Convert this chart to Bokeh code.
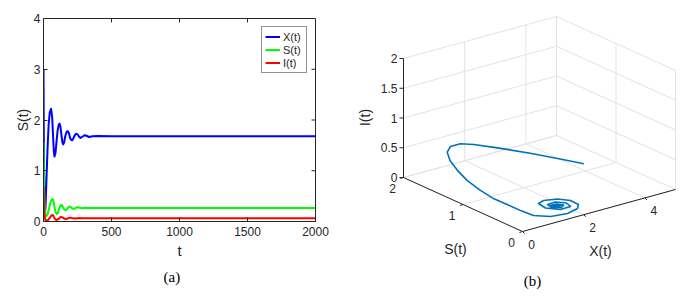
import numpy as np
from bokeh.plotting import figure
from bokeh.models import Range1d, FixedTicker, Legend, LegendItem, Label, Title
from bokeh.layouts import row
from bokeh.embed import file_html
from bokeh.resources import INLINE
from bokeh.core.properties import value

# ---------------- data: panel (a) time series ----------------
t_X = [0, 3, 6, 10, 15, 22, 30, 38, 46, 56, 64, 70, 76, 81, 88, 96, 104, 112, 118, 125,
       132, 139, 145, 152, 160, 170, 179, 187, 195, 203, 211, 220, 232, 243, 252, 262, 272,
       285, 304, 320, 335, 360, 400, 500, 2000]
X_vals = [3.0, 1.3, 0.45, 0.12, 0.3, 0.85, 1.45, 1.92, 2.15, 2.22, 2.05, 1.7, 1.38, 1.28, 1.35,
          1.58, 1.8, 1.91, 1.93, 1.86, 1.7, 1.56, 1.52, 1.56, 1.68, 1.77, 1.78, 1.74, 1.65, 1.61,
          1.60, 1.64, 1.71, 1.73, 1.71, 1.67, 1.645, 1.67, 1.70, 1.685, 1.665, 1.68, 1.685, 1.68, 1.68]
t_S = [0, 3, 6, 10, 15, 20, 28, 38, 48, 58, 66, 72, 80, 88, 97, 106, 116, 126, 132, 140,
       150, 160, 172, 184, 192, 202, 214, 226, 240, 252, 266, 285, 305, 330, 400, 2000]
S_vals = [1.55, 0.9, 0.45, 0.22, 0.12, 0.1, 0.13, 0.22, 0.34, 0.42, 0.44, 0.42, 0.3, 0.19, 0.15,
          0.17, 0.26, 0.32, 0.325, 0.3, 0.245, 0.22, 0.24, 0.285, 0.295, 0.28, 0.252, 0.25, 0.275,
          0.282, 0.27, 0.262, 0.27, 0.268, 0.268, 0.268]
t_I = [0, 3, 6, 10, 16, 24, 34, 46, 56, 64, 70, 78, 88, 98, 108, 120, 130, 140, 152, 164,
       178, 192, 204, 218, 232, 250, 265, 285, 310, 350, 2000]
I_vals = [0.68, 0.35, 0.15, 0.06, 0.025, 0.02, 0.03, 0.07, 0.11, 0.13, 0.125, 0.08, 0.04, 0.03,
          0.045, 0.075, 0.09, 0.08, 0.058, 0.05, 0.06, 0.075, 0.072, 0.062, 0.058, 0.066, 0.07,
          0.065, 0.064, 0.066, 0.066]
series_names = ["X(t)", "S(t)", "I(t)"]
x_ticks_a = [0, 500, 1000, 1500, 2000]
y_ticks_a = [0, 1, 2, 3, 4]
t_lim = (0, 2000)
v_lim = (0, 4)

# ---------------- data: panel (b) phase trajectory ----------------
traj_X = [3.22, 2.94, 2.47, 1.96, 1.58, 1.31, 0.99, 0.69, 0.45, 0.29, 0.20, 0.24, 0.35, 0.53,
          0.66, 0.78, 1.14, 1.59, 1.965, 2.11, 2.10, 1.90, 1.58, 1.37, 1.36, 1.61, 1.93, 1.96,
          1.78, 1.52, 1.50, 1.70, 1.83, 1.73, 1.55, 1.54, 1.65, 1.74, 1.70, 1.58, 1.56, 1.65,
          1.70, 1.64, 1.59, 1.62, 1.65, 1.62, 1.62]
traj_S = [0.625, 0.816, 1.14, 1.43, 1.63, 1.72, 1.72, 1.62, 1.45, 1.24, 1.03, 0.83, 0.66, 0.53,
          0.37, 0.217, 0.114, 0.062, 0.086, 0.145, 0.274, 0.39, 0.46, 0.435, 0.314, 0.19, 0.185,
          0.27, 0.36, 0.36, 0.28, 0.22, 0.25, 0.32, 0.33, 0.27, 0.235, 0.26, 0.305, 0.30, 0.26,
          0.245, 0.27, 0.29, 0.275, 0.26, 0.27, 0.28, 0.27]
traj_I = [0.40, 0.42, 0.45, 0.48, 0.50, 0.51, 0.51, 0.50, 0.47, 0.42, 0.36, 0.28, 0.20, 0.14,
          0.09, 0.06, 0.04, 0.05, 0.07, 0.09, 0.10, 0.10, 0.09, 0.08, 0.06, 0.056, 0.064, 0.08,
          0.08, 0.074, 0.064, 0.064, 0.072, 0.074, 0.07, 0.066, 0.066, 0.07, 0.07, 0.068, 0.066,
          0.066, 0.068, 0.068, 0.066, 0.066, 0.067, 0.067, 0.066]
ticks_X3 = [0, 2, 4]
ticks_S3 = [0, 1, 2]
ticks_I3 = [0, 0.5, 1, 1.5, 2]
lim_X3, lim_S3, lim_I3 = 5.0, 2.0, 2.0

# ---------------- styles ----------------
AX = "#262626"
GRID = "#e3e3e3"
FONT = "Liberation Sans"
SERIF = "Liberation Serif"
COLORS = ["#0000ff", "#00ff00", "#ff0000"]
TRAJ = "#0072bd"
TICK_FS = "12px"
LAB_FS = "14px"
CAP_FS = "15px"

# ================= panel (a) =================
p1 = figure(width=343, height=296, output_backend="svg", toolbar_location=None,
            x_range=Range1d(*t_lim), y_range=Range1d(*v_lim),
            min_border_left=43, min_border_right=28, min_border_top=18, min_border_bottom=75)
p1.frame_align = False
p1.grid.visible = False
p1.outline_line_color = AX
p1.background_fill_color = "white"
p1.border_fill_color = "white"

for ax in (p1.xaxis[0], p1.yaxis[0]):
    ax.axis_line_color = AX
    ax.major_tick_line_color = AX
    ax.major_tick_in = 4
    ax.major_tick_out = 0
    ax.minor_tick_line_color = None
    ax.major_label_text_color = AX
    ax.major_label_text_font = FONT
    ax.major_label_text_font_size = TICK_FS
    ax.axis_label_text_font = FONT
    ax.axis_label_text_font_style = "normal"
    ax.axis_label_text_color = AX
    ax.axis_label_text_font_size = LAB_FS
p1.xaxis[0].ticker = FixedTicker(ticks=x_ticks_a)
p1.yaxis[0].ticker = FixedTicker(ticks=y_ticks_a)
p1.xaxis[0].axis_label = "t"
p1.yaxis[0].axis_label = "S(t)"
p1.xaxis[0].major_label_standoff = 5
p1.xaxis[0].axis_label_standoff = 3
p1.xaxis[0].axis_label_text_font_size = "15px"
p1.yaxis[0].major_label_standoff = 3
p1.yaxis[0].axis_label_standoff = 0

# inward ticks on the top and right edges of the box
p1.ray(x=[t_lim[1]] * len(y_ticks_a), y=y_ticks_a, length=4, length_units="screen",
       angle=np.pi, line_color=AX, line_width=1)
p1.ray(x=x_ticks_a, y=[v_lim[1]] * len(x_ticks_a), length=4, length_units="screen",
       angle=-np.pi / 2, line_color=AX, line_width=1)

r1 = p1.line(t_X, X_vals, line_color=COLORS[0], line_width=2, line_join="round")
r2 = p1.line(t_S, S_vals, line_color=COLORS[1], line_width=2, line_join="round")
r3 = p1.line(t_I, I_vals, line_color=COLORS[2], line_width=2, line_join="round")

leg = Legend(items=[LegendItem(label=series_names[i], renderers=[r]) for i, r in enumerate((r1, r2, r3))],
             location="top_right", margin=8, padding=3, spacing=0,
             label_height=13, glyph_height=13, glyph_width=15, label_standoff=3,
             label_text_font=FONT, label_text_font_size="11px", label_text_color=AX,
             border_line_color=AX, border_line_width=1, background_fill_alpha=1)
p1.add_layout(leg)

p1.add_layout(Title(text="(a)", align="left", offset=120, standoff=10,
                    text_font=SERIF, text_font_size=CAP_FS, text_font_style="normal",
                    text_color="black"), "below")

# ================= panel (b) =================
# page-pixel canvas; 3-D points projected with a fixed MATLAB-like view
p2 = figure(width=342, height=296, output_backend="svg", toolbar_location=None,
            x_range=Range1d(343, 685), y_range=Range1d(296, 0),
            x_axis_location=None, y_axis_location=None,
            min_border_left=0, min_border_right=0, min_border_top=0, min_border_bottom=0)
p2.frame_align = False
p2.grid.visible = False
p2.outline_line_color = None
p2.background_fill_color = "white"
p2.border_fill_color = "white"

O = np.array([522.0, 231.0])
EX = np.array([153.0, -42.0])
EY = np.array([-119.0, -54.0])
EZ = np.array([0.0, -119.0])


def proj(X, S, I):
    X = np.asarray(X, float) / lim_X3
    S = np.asarray(S, float) / lim_S3
    I = np.asarray(I, float) / lim_I3
    px = O[0] + X * EX[0] + S * EY[0] + I * EZ[0]
    py = O[1] + X * EX[1] + S * EY[1] + I * EZ[1]
    return px, py


def seg3(a, b):
    x0, y0 = proj(*a)
    x1, y1 = proj(*b)
    return float(x0), float(y0), float(x1), float(y1)


gx0, gy0, gx1, gy1 = [], [], [], []


def add(a, b):
    s = seg3(a, b)
    gx0.append(s[0]); gy0.append(s[1]); gx1.append(s[2]); gy1.append(s[3])


for z in ticks_I3:
    add((0, lim_S3, z), (lim_X3, lim_S3, z))
    add((lim_X3, lim_S3, z), (lim_X3, 0, z))
for xv in ticks_X3:
    add((xv, lim_S3, 0), (xv, lim_S3, lim_I3))
    add((xv, 0, 0), (xv, lim_S3, 0))
for sv in ticks_S3:
    add((lim_X3, sv, 0), (lim_X3, sv, lim_I3))
    add((0, sv, 0), (lim_X3, sv, 0))
p2.segment(gx0, gy0, gx1, gy1, line_color=GRID, line_width=1)

# axis lines
ax0, ay0, ax1, ay1 = [], [], [], []
for a, b in (((0, lim_S3, 0), (0, lim_S3, lim_I3)),
             ((0, 0, 0), (0, lim_S3, 0)),
             ((0, 0, 0), (lim_X3, 0, 0))):
    s = seg3(a, b)
    ax0.append(s[0]); ay0.append(s[1]); ax1.append(s[2]); ay1.append(s[3])
p2.segment(ax0, ay0, ax1, ay1, line_color=AX, line_width=1)

# ticks and tick labels
zx, zy = proj([0] * len(ticks_I3), [lim_S3] * len(ticks_I3), ticks_I3)
p2.segment(zx - 4, zy, zx, zy, line_color=AX, line_width=1)
p2.text(zx - 6, zy, text=[f"{v:g}" for v in ticks_I3], text_align="right", text_baseline="middle",
        text_font=value(FONT), text_font_size=TICK_FS, text_color=AX)

sx, sy = proj([0] * len(ticks_S3), ticks_S3, [0] * len(ticks_S3))
p2.segment(sx, sy, sx - 3, sy + 1, line_color=AX, line_width=1)
p2.text(sx - 11, sy + 11, text=[f"{v:g}" for v in ticks_S3], text_align="center", text_baseline="middle",
        text_font=value(FONT), text_font_size=TICK_FS, text_color=AX)

xx, xy = proj(ticks_X3, [0] * len(ticks_X3), [0] * len(ticks_X3))
p2.segment(xx, xy, xx + 2, xy + 2, line_color=AX, line_width=1)
p2.text(xx + 9, xy + 13, text=[f"{v:g}" for v in ticks_X3], text_align="center", text_baseline="middle",
        text_font=value(FONT), text_font_size=TICK_FS, text_color=AX)

# trajectory
tx, ty = proj(traj_X, traj_S, traj_I)
p2.line(tx, ty, line_color=TRAJ, line_width=1.6, line_join="round")

# axis labels and caption
p2.add_layout(Label(x=364, y=117, text="I(t)", angle=np.pi / 2, text_align="center", text_baseline="middle",
                    text_font=FONT, text_font_size=LAB_FS, text_color=AX))
p2.add_layout(Label(x=455, y=248, text="S(t)", text_align="center", text_baseline="middle",
                    text_font=FONT, text_font_size=LAB_FS, text_color=AX))
p2.add_layout(Label(x=600, y=250, text="X(t)", text_align="center", text_baseline="middle",
                    text_font=FONT, text_font_size=LAB_FS, text_color=AX))
p2.add_layout(Label(x=532, y=280, text="(b)", text_align="center", text_baseline="middle",
                    text_font=SERIF, text_font_size=CAP_FS, text_color="black"))

layout = row(p1, p2)
open("out.html", "w").write(file_html(layout, INLINE))
